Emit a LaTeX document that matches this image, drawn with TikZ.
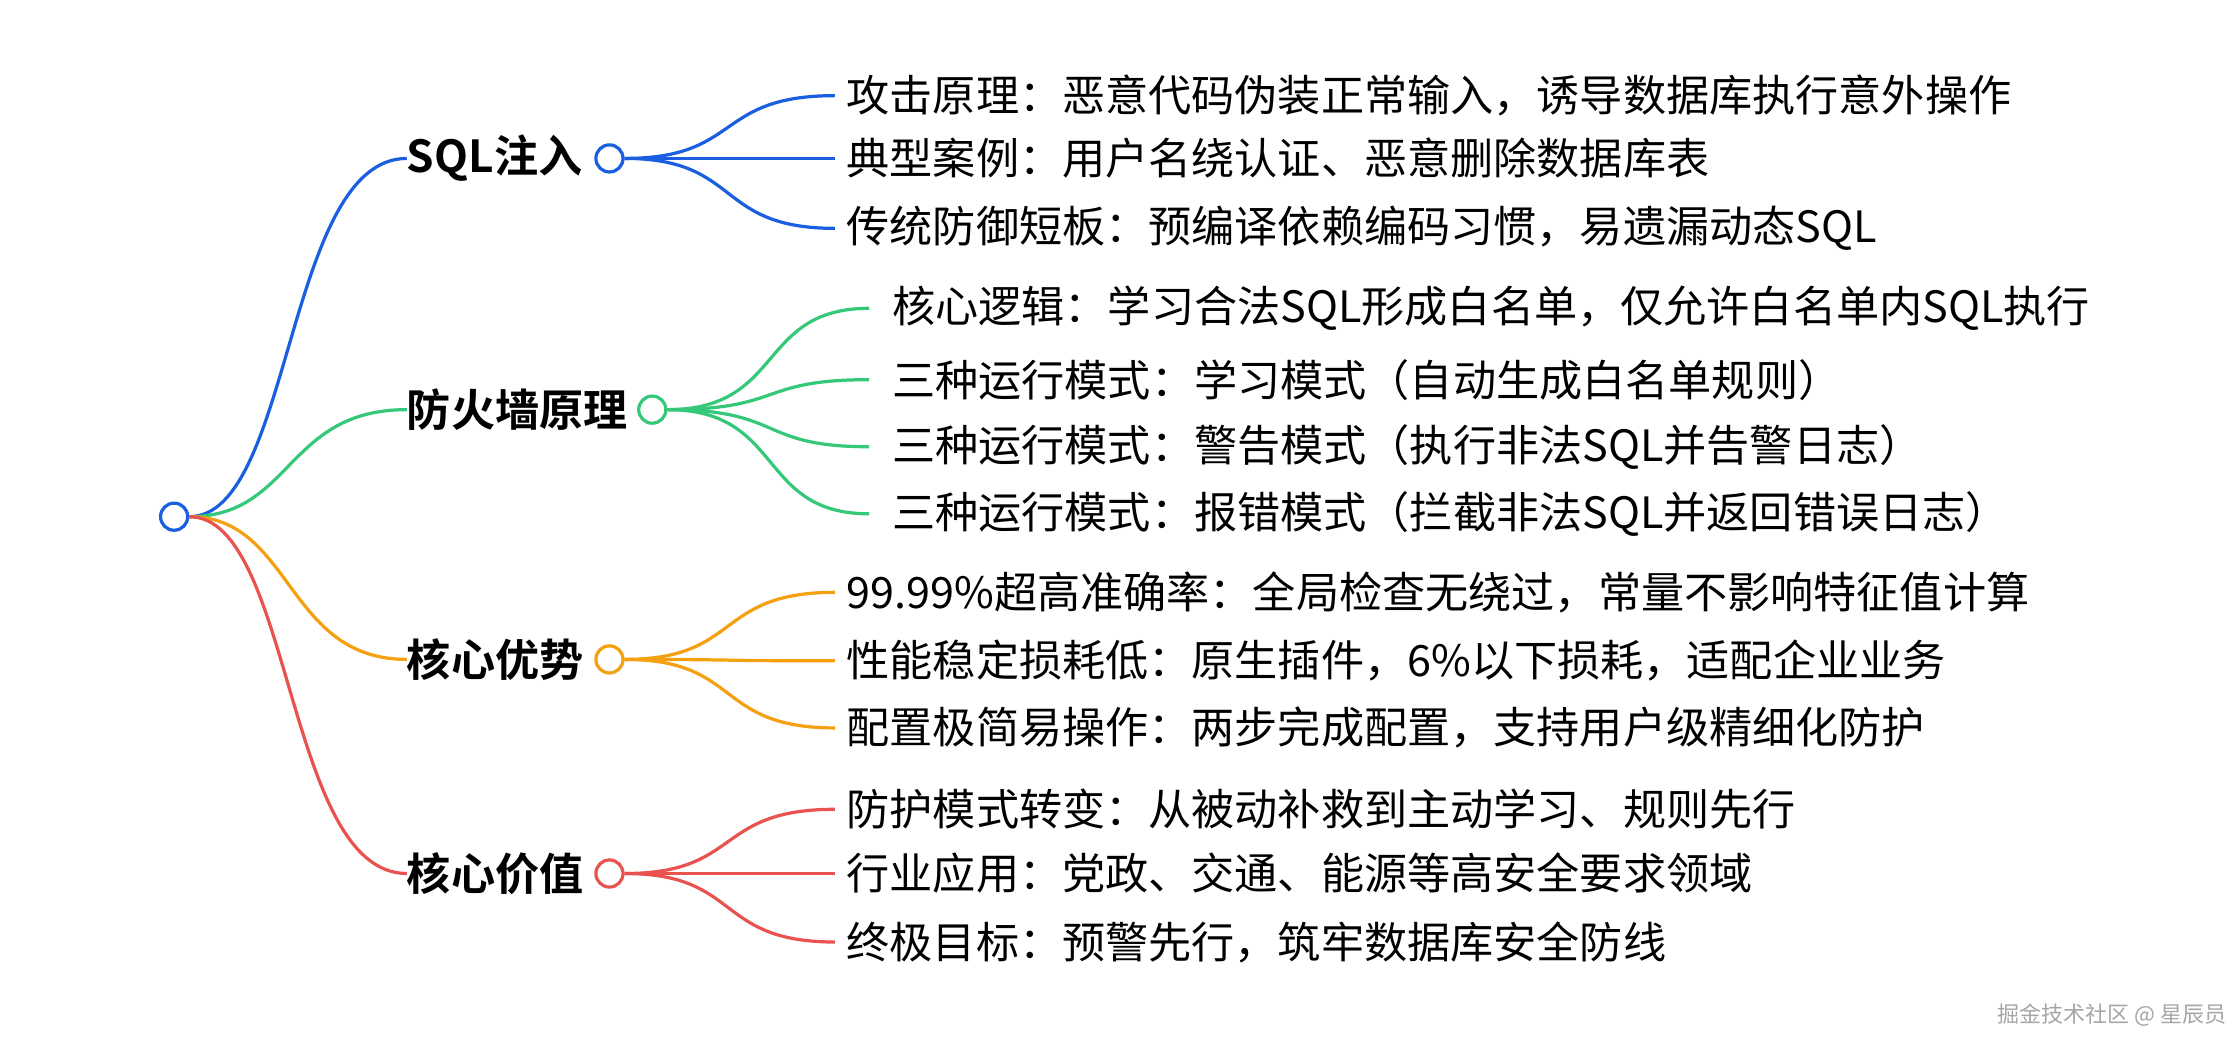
\documentclass[tikz,border=0pt]{standalone}
\usepackage{fontspec}
\setmainfont{Noto Sans CJK SC}[BoldFont={Noto Sans CJK SC Bold}]
\begin{document}
\begin{tikzpicture}[x=0.05cm,y=-0.05cm,
  br/.style={line width=3.2pt},
  dot/.style={circle,draw,line width=3.2pt,fill=white,minimum size=0.95cm,inner sep=0pt},
  lbl/.style={font=\fontsize{44}{46}\selectfont\bfseries,anchor=west,inner sep=0pt},
  leaf/.style={font=\fontsize{43}{45}\selectfont,anchor=west,inner sep=0pt}]
\definecolor{cb}{HTML}{1A5FE0}\definecolor{cg}{HTML}{35C879}
\definecolor{co}{HTML}{F4A010}\definecolor{cr}{HTML}{E8534F}
\useasboundingbox (0,0) rectangle (1568,738);
\fill[white] (0,0) rectangle (1568,738);
\node[dot,draw=cb] (root) at (122,362) {};
% branches
\foreach \n/\t/\y/\cx/\c in {b1/SQL注入/111/427/cb, b2/防火墙原理/287/457/cg, b3/核心优势/462/427/co, b4/核心价值/612/427/cr}{
  \node[lbl] (\n) at (285,\y) {\t};
  \draw[br,\c] (root.east) .. controls (205,362) and (200,\y) .. (\n.west);
  \node[dot,draw=\c] (\n c) at (\cx,\y) {};
}
% leaves
\foreach \t/\y in {攻击原理：恶意代码伪装正常输入，诱导数据库执行意外操作/67, 典型案例：用户名绕认证、恶意删除数据库表/111, 传统防御短板：预编译依赖编码习惯，易遗漏动态SQL/160}{
  \node[leaf] (l) at (593,\y) {\t};
  \draw[br,cb] (b1c.east) .. controls (520,111) and (500,\y) .. ([xshift=-0.4cm]l.west);}
\foreach \t/\y in {核心逻辑：学习合法SQL形成白名单，仅允许白名单内SQL执行/216, 三种运行模式：学习模式（自动生成白名单规则）/266, 三种运行模式：警告模式（执行非法SQL并告警日志）/313, 三种运行模式：报错模式（拦截非法SQL并返回错误日志）/360}{
  \node[leaf] (l) at (625,\y) {\t};
  \draw[br,cg] (b2c.east) .. controls (550,287) and (530,\y) .. ([xshift=-0.8cm]l.west);}
\foreach \t/\y in {99.99\%超高准确率：全局检查无绕过，常量不影响特征值计算/415, 性能稳定损耗低：原生插件，6\%以下损耗，适配企业业务/463, 配置极简易操作：两步完成配置，支持用户级精细化防护/510}{
  \node[leaf] (l) at (593,\y) {\t};
  \draw[br,co] (b3c.east) .. controls (520,462) and (500,\y) .. ([xshift=-0.4cm]l.west);}
\foreach \t/\y in {防护模式转变：从被动补救到主动学习、规则先行/567, 行业应用：党政、交通、能源等高安全要求领域/612, 终极目标：预警先行，筑牢数据库安全防线/660}{
  \node[leaf] (l) at (593,\y) {\t};
  \draw[br,cr] (b4c.east) .. controls (520,612) and (500,\y) .. ([xshift=-0.4cm]l.west);}
\node[font=\fontsize{22}{24}\selectfont,text=gray!70,anchor=east,inner sep=0pt] (wm) at (1560,711) {掘金技术社区 @ 星辰员};
\end{tikzpicture}
\end{document}
